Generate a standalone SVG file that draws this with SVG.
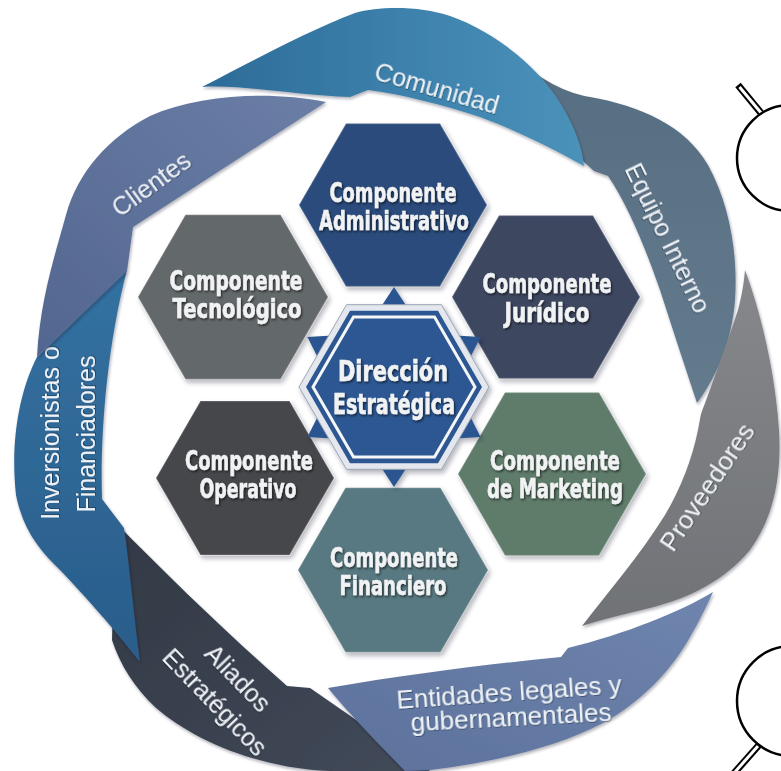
<svg xmlns="http://www.w3.org/2000/svg" width="781" height="771" viewBox="0 0 781 771">
<defs>
<style>
.hx{font-family:"DejaVu Sans","Liberation Sans",sans-serif;font-weight:700;font-size:27px;fill:#f1f2f3;stroke:#f1f2f3;stroke-width:0.6;text-anchor:middle;filter:url(#ts)}
.dir{font-size:29px}
.bt{font-family:"Liberation Sans",Arial,sans-serif;font-size:25px;fill:#eef2f7;text-anchor:middle;filter:url(#ts2)}
.hex{filter:url(#sh);stroke:rgba(255,255,255,0.18);stroke-width:1.5}
.band{filter:url(#sh2)}
.mag{fill:#fff;stroke:#000;stroke-width:2.5}
.tab{fill:#2a5490}
</style>
<filter id="sh" x="-10%" y="-10%" width="125%" height="125%"><feDropShadow dx="2" dy="3" stdDeviation="2.5" flood-color="#1a2230" flood-opacity="0.35"/></filter>
<filter id="sh2" x="-10%" y="-10%" width="125%" height="125%"><feDropShadow dx="1" dy="2" stdDeviation="1.5" flood-color="#1a2230" flood-opacity="0.35"/></filter>
<filter id="ts" x="-10%" y="-20%" width="125%" height="150%"><feDropShadow dx="1.2" dy="1.6" stdDeviation="0.8" flood-color="#000" flood-opacity="0.6"/></filter>
<filter id="ts2" x="-10%" y="-20%" width="125%" height="150%"><feDropShadow dx="0.8" dy="1" stdDeviation="0.7" flood-color="#101820" flood-opacity="0.45"/></filter>
<linearGradient id="gCom" x1="0" y1="0" x2="1" y2="0"><stop offset="0" stop-color="#2d6b98"/><stop offset="0.55" stop-color="#3d82ad"/><stop offset="1" stop-color="#4b92ba"/></linearGradient>
<linearGradient id="gEq" x1="0" y1="0" x2="0" y2="1"><stop offset="0" stop-color="#566d81"/><stop offset="1" stop-color="#647b8e"/></linearGradient>
<linearGradient id="gPro" x1="0" y1="0" x2="0" y2="1"><stop offset="0" stop-color="#86888b"/><stop offset="1" stop-color="#707276"/></linearGradient>
<linearGradient id="gEnt" x1="1" y1="0" x2="0" y2="1"><stop offset="0" stop-color="#6f85ae"/><stop offset="1" stop-color="#5c719b"/></linearGradient>
<linearGradient id="gAli" x1="0" y1="0" x2="1" y2="1"><stop offset="0" stop-color="#323945"/><stop offset="1" stop-color="#414958"/></linearGradient>
<linearGradient id="gInv" x1="0" y1="0" x2="0" y2="1"><stop offset="0" stop-color="#3371a1"/><stop offset="1" stop-color="#2a5d8a"/></linearGradient>
<linearGradient id="gCli" x1="1" y1="0" x2="0" y2="1"><stop offset="0" stop-color="#6b7ea6"/><stop offset="1" stop-color="#52668f"/></linearGradient>
</defs>
<rect width="781" height="771" fill="#fff"/>

<g id="ring">
<g id="equipo-interno">
<path class="band" fill="url(#gEq)" d="M 505,50 C 535,75 560,92 590,97 C 640,106 685,125 708,165 C 730,205 738,255 735,300 C 732,340 718,375 697,403 C 686,370 673,330 660,290 C 646,250 628,205 608,176 L 594,171 L 565,145 Z"/>
<text class="bt" transform="translate(668,238) rotate(64)" y="9" textLength="163" lengthAdjust="spacingAndGlyphs">Equipo Interno</text>
</g>
<g id="aliados">
<path class="band" fill="url(#gAli)" d="M 115,522 C 170,578 230,636 287,686 L 310,688 L 430,771 L 330,771 C 260,768 195,742 155,707 C 135,688 120,665 112,640 Z"/>
<text class="bt" transform="translate(238,678) rotate(46)" y="9">Aliados</text>
<text class="bt" transform="translate(215,702) rotate(46)" y="9">Estratégicos</text>
</g>
<g id="entidades">
<path class="band" fill="url(#gEnt)" d="M 713,592 C 680,612 625,634 568,648 L 561,657 C 490,664 410,674 328,688 C 350,715 380,745 405,771 L 430,770 C 490,763 555,748 603,723 C 640,703 672,670 690,637 C 700,620 707,605 713,592 Z"/>
<text class="bt" transform="translate(509,692) rotate(-4)" y="9" style="font-size:26px">Entidades legales y</text>
<text class="bt" transform="translate(511,717) rotate(-3)" y="9" style="font-size:26px">gubernamentales</text>
</g>
<g id="inversionistas">
<path class="band" fill="url(#gInv)" d="M 127,270 L 37,357 C 20,390 10,440 16,495 C 22,525 35,545 55,565 C 80,590 115,630 140,662 C 134,620 130,570 124,528 L 102,499 C 100,440 106,350 127,270 Z"/>
<text class="bt" transform="translate(50,433) rotate(-90)" y="9">Inversionistas o</text>
<text class="bt" transform="translate(86,434) rotate(-90)" y="9">Financiadores</text>
</g>
<g id="clientes">
<path class="band" fill="url(#gCli)" d="M 37,357 C 40,300 55,255 66,215 C 78,172 108,138 150,116 C 200,94 270,91 326,102 L 133,227 L 127,271 Z"/>
<text class="bt" transform="translate(151,184) rotate(-36)" y="9">Clientes</text>
</g>
<g id="comunidad">
<path class="band" fill="url(#gCom)" d="M 202,87 C 250,62 310,30 355,13 C 380,6 420,6 450,16 C 490,30 530,60 555,95 C 572,120 582,145 584,166 C 548,146 510,128 480,117 C 440,104 400,94 368,90 L 350,97 C 300,96 240,84 202,87 Z"/>
<text class="bt" transform="translate(437,88) rotate(16)" y="9">Comunidad</text>
</g>
<g id="proveedores">
<path class="band" fill="url(#gPro)" d="M 745,270 C 760,310 775,370 779,430 C 782,480 772,520 750,550 C 725,580 690,598 650,608 C 625,614 600,620 582,626 C 610,590 640,555 665,515 C 680,490 692,460 698,430 L 701,414 C 712,385 728,340 738,310 C 742,295 744,282 745,270 Z"/>
<text class="bt" transform="translate(707,487) rotate(-56)" y="9" style="font-size:26px">Proveedores</text>
</g>
</g>

<g id="connectors"/>

<g id="administrativo">
<polygon class="hex" fill="#2b4c7b" points="299,205 346,123.6 440,123.6 487,205 440,286.4 346,286.4"/>
<text class="hx" x="393" y="202" textLength="127" lengthAdjust="spacingAndGlyphs">Componente</text>
<text class="hx" x="394" y="230" textLength="150" lengthAdjust="spacingAndGlyphs">Administrativo</text>
</g>
<g id="tecnologico">
<polygon class="hex" fill="#63676a" points="138,297 185.5,214.7 280.5,214.7 328,297 280.5,379.3 185.5,379.3"/>
<text class="hx" x="236" y="290" textLength="133" lengthAdjust="spacingAndGlyphs">Componente</text>
<text class="hx" x="237" y="318" textLength="129" lengthAdjust="spacingAndGlyphs">Tecnológico</text>
</g>
<g id="juridico">
<polygon class="hex" fill="#3c4661" points="452,297 499,215.6 593,215.6 640,297 593,378.4 499,378.4"/>
<text class="hx" x="547" y="293" textLength="129" lengthAdjust="spacingAndGlyphs">Componente</text>
<text class="hx" x="547" y="322" textLength="85" lengthAdjust="spacingAndGlyphs">Jurídico</text>
</g>
<g id="marketing">
<polygon class="hex" fill="#5e7b6b" points="458,474 505,392.6 599,392.6 646,474 599,555.4 505,555.4"/>
<text class="hx" x="555" y="470" textLength="130" lengthAdjust="spacingAndGlyphs">Componente</text>
<text class="hx" x="555" y="498" textLength="136" lengthAdjust="spacingAndGlyphs">de Marketing</text>
</g>
<g id="financiero">
<polygon class="hex" fill="#597981" points="298,570 345.5,487.7 440.5,487.7 488,570 440.5,652.3 345.5,652.3"/>
<text class="hx" x="394" y="567" textLength="128" lengthAdjust="spacingAndGlyphs">Componente</text>
<text class="hx" x="393" y="595" textLength="107" lengthAdjust="spacingAndGlyphs">Financiero</text>
</g>
<g id="operativo">
<polygon class="hex" fill="#45474c" points="156,478 200.5,400.9 289.5,400.9 334,478 289.5,555.1 200.5,555.1"/>
<text class="hx" x="249" y="470" textLength="128" lengthAdjust="spacingAndGlyphs">Componente</text>
<text class="hx" x="248" y="498" textLength="97" lengthAdjust="spacingAndGlyphs">Operativo</text>
</g>

<g id="direccion">
<g filter="url(#sh)">
<polygon class="tab" points="394,287 407.9,308.2 380.1,308.2"/>
<polygon class="tab" points="480.6,337 469.2,359.6 455.3,335.6"/>
<polygon class="tab" points="480.6,437 455.3,438.4 469.2,414.4"/>
<polygon class="tab" points="394,487 380.1,465.8 407.9,465.8"/>
<polygon class="tab" points="307.4,437 318.8,414.4 332.7,438.4"/>
<polygon class="tab" points="307.4,337 332.7,335.6 318.8,359.6"/>
<polygon fill="#e4e8ee" stroke="#9aa5b4" stroke-width="1" points="299,387 346.5,304.7 441.5,304.7 489,387 441.5,469.3 346.5,469.3"/>
</g>
<polygon fill="#2c5793" points="306,387 350,310.8 438,310.8 482,387 438,463.2 350,463.2"/>
<polygon fill="none" stroke="#f4f6f8" stroke-width="3" points="313,387 353.5,316.9 434.5,316.9 475,387 434.5,457.1 353.5,457.1"/>
<text class="hx dir" x="393" y="381" textLength="110" lengthAdjust="spacingAndGlyphs">Dirección</text>
<text class="hx dir" x="394" y="414" textLength="122" lengthAdjust="spacingAndGlyphs">Estratégica</text>
</g>

<g id="magnifier-top">
<line x1="738" y1="85" x2="761" y2="113" stroke="#000" stroke-width="7"/>
<line x1="739.5" y1="87" x2="762" y2="114" stroke="#fff" stroke-width="3"/>
<circle class="mag" cx="790" cy="158" r="53"/>
</g>
<g id="magnifier-bottom">
<line x1="759" y1="745" x2="728" y2="780" stroke="#000" stroke-width="7"/>
<line x1="758" y1="746" x2="727" y2="781" stroke="#fff" stroke-width="3"/>
<circle class="mag" cx="792" cy="701" r="55"/>
</g>
</svg>
